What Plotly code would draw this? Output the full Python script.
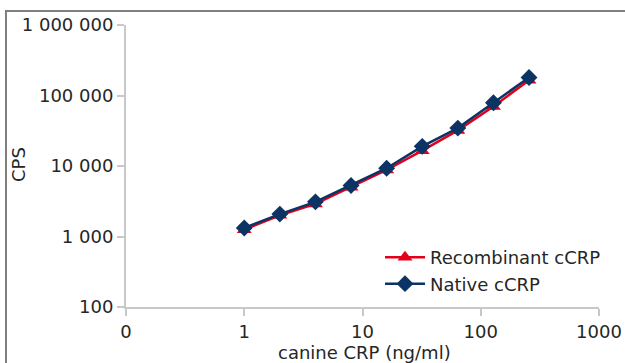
import plotly.graph_objects as go

conc = [1, 2, 4, 8, 16, 32, 64, 128, 256]
recombinant = [1250, 2000, 2900, 5000, 8800, 16500, 32000, 70000, 165000]
native = [1320, 2080, 3100, 5300, 9300, 19000, 34500, 79000, 180000]

x_tickvals = [0.1, 1, 10, 100, 1000]
x_ticktext = ["0", "1", "10", "100", "1000"]
y_tickvals = [100, 1000, 10000, 100000, 1000000]
y_ticktext = ["100", "1 000", "10 000", "100 000", "1 000 000"]

RED = "#e3001b"
NAVY = "#0b3364"
FONT = "DejaVu Sans"
TXT = "#262626"
FS = 18

fig = go.Figure()
fig.add_trace(go.Scatter(x=conc, y=recombinant, mode="lines+markers", name="Recombinant cCRP",
                         line=dict(color=RED, width=2.5),
                         marker=dict(symbol="triangle-up", size=13, color=RED)))
fig.add_trace(go.Scatter(x=conc, y=native, mode="lines+markers", name="Native cCRP",
                         line=dict(color=NAVY, width=2.5),
                         marker=dict(symbol="diamond", size=13, color=NAVY)))

axis_common = dict(showgrid=False, zeroline=False, showline=True, linecolor="#c8c8c8", linewidth=2,
                   ticks="outside", ticklen=7, tickwidth=2, tickcolor="#c8c8c8", automargin=False,
                   tickfont=dict(family=FONT, size=FS, color=TXT))

fig.update_xaxes(type="log", range=[-1, 3], tickvals=x_tickvals, ticktext=x_ticktext, **axis_common)
fig.update_yaxes(type="log", range=[2, 6], tickvals=y_tickvals, ticktext=y_ticktext, **axis_common)

fig.add_annotation(text="canine CRP (ng/ml)", xref="paper", yref="paper", x=0.505, y=-0.1596,
                   xanchor="center", yanchor="middle", showarrow=False,
                   font=dict(family=FONT, size=FS, color=TXT))
fig.add_annotation(text="CPS", xref="paper", yref="paper", x=-0.2283, y=0.5035, textangle=-90,
                   xanchor="center", yanchor="middle", showarrow=False,
                   font=dict(family=FONT, size=FS, color=TXT))

fig.add_shape(type="rect", xref="paper", yref="paper", x0=-0.2537, x1=1.2, y0=-0.4, y1=1.0496,
              line=dict(color="#7f7f7f", width=2), fillcolor="rgba(0,0,0,0)", layer="below")

fig.update_layout(
    width=625, height=363,
    margin=dict(l=126, r=26, t=25, b=56),
    paper_bgcolor="white", plot_bgcolor="white",
    font=dict(family=FONT, size=FS, color=TXT),
    showlegend=True,
    legend=dict(x=0.537, y=0.241, xanchor="left", yanchor="top", bgcolor="rgba(0,0,0,0)",
                font=dict(family=FONT, size=FS, color=TXT), tracegroupgap=0, itemwidth=40),
)

fig.write_html("out.html")
